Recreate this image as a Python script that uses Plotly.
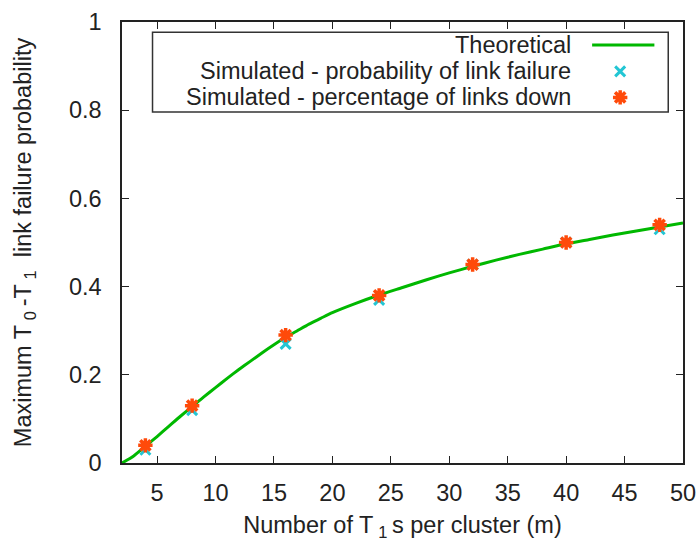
import plotly.graph_objects as go

# Theoretical curve (m, max link failure probability)
m_theory = [2, 3, 4, 5, 6, 7, 8, 9, 10, 11, 12, 13, 14, 15, 16, 17, 18, 19, 20,
            22, 24, 26, 28, 30, 32, 34, 36, 38, 40, 42, 44, 46, 48, 50]
p_theory = [0.000, 0.016, 0.038, 0.060, 0.083, 0.106, 0.128, 0.150, 0.171, 0.192,
            0.212, 0.231, 0.250, 0.268, 0.285, 0.300, 0.315, 0.328, 0.341,
            0.362, 0.381, 0.398, 0.415, 0.431, 0.446, 0.460, 0.473, 0.485,
            0.497, 0.507, 0.517, 0.526, 0.535, 0.544]

# Simulation results
m_sim = [4, 8, 16, 24, 32, 40, 48]
p_sim_prob = [0.030, 0.120, 0.270, 0.370, 0.450, 0.500, 0.530]
p_sim_down = [0.040, 0.130, 0.290, 0.380, 0.450, 0.500, 0.540]

legend_labels = ["Theoretical",
                 "Simulated - probability of link failure",
                 "Simulated - percentage of links down"]

GREEN = "#00b800"
CYAN = "#22c6d4"
ORANGE = "#ff4a0a"
TEXT = "#222222"
FONT = "Liberation Sans, Arial, sans-serif"
FS = 23.5
TS = "\u2009"  # thin space around subscripts

cyan_marker = dict(symbol="x-thin-open", size=10, color=CYAN,
                   line=dict(color=CYAN, width=3))
orange_marker = dict(symbol="asterisk-open", size=12, color=ORANGE,
                     line=dict(color=ORANGE, width=3.5))

fig = go.Figure()
fig.add_trace(go.Scatter(x=m_theory, y=p_theory, mode="lines",
                         line=dict(color=GREEN, width=3, shape="spline",
                                   smoothing=0.6),
                         showlegend=False))
fig.add_trace(go.Scatter(x=m_sim, y=p_sim_prob, mode="markers",
                         marker=cyan_marker, showlegend=False))
fig.add_trace(go.Scatter(x=m_sim, y=p_sim_down, mode="markers",
                         marker=orange_marker, showlegend=False))

# Key box, drawn in plot-area fractions on an overlay axis pair
key_right_text = 0.804
key_rows = [0.948, 0.888, 0.829]
key_mark_x = 0.888
fig.add_trace(go.Scatter(x=[key_mark_x], y=[key_rows[1]], xaxis="x2", yaxis="y2",
                         mode="markers", hoverinfo="skip", showlegend=False,
                         marker=cyan_marker))
fig.add_trace(go.Scatter(x=[key_mark_x], y=[key_rows[2]], xaxis="x2", yaxis="y2",
                         mode="markers", hoverinfo="skip", showlegend=False,
                         marker=orange_marker))

shapes = [
    dict(type="rect", xref="paper", yref="paper", x0=0.0544, x1=0.9737,
         y0=0.796, y1=0.977, line=dict(color="#333333", width=1.5),
         fillcolor="white", layer="below"),
    dict(type="line", xref="paper", yref="paper", x0=0.838, x1=0.949,
         y0=key_rows[0], y1=key_rows[0], line=dict(color=GREEN, width=3)),
]
annotations = [
    dict(text=t, xref="paper", yref="paper", x=key_right_text, y=yy,
         xanchor="right", yanchor="middle", showarrow=False,
         font=dict(family=FONT, size=FS, color=TEXT))
    for t, yy in zip(legend_labels, key_rows)
]

axis_common = dict(showline=True, linecolor=TEXT, linewidth=1.5,
                   mirror="ticks", ticks="inside", ticklen=7, tickwidth=1.2,
                   tickcolor=TEXT, showgrid=False, zeroline=False,
                   automargin=False,
                   tickfont=dict(family=FONT, size=FS, color=TEXT))

fig.update_layout(
    width=697, height=541,
    margin=dict(l=122, r=14, t=22, b=78),
    plot_bgcolor="white", paper_bgcolor="white",
    font=dict(family=FONT, size=FS, color=TEXT),
    xaxis=dict(range=[2, 50], tickvals=[5, 10, 15, 20, 25, 30, 35, 40, 45, 50],
               ticklabelstandoff=8,
               title=dict(text=f"Number of T{TS}<sub>1</sub>{TS}s per cluster (m)",
                          standoff=16,
                          font=dict(family=FONT, size=FS, color=TEXT)),
               **axis_common),
    yaxis=dict(range=[0, 1], tickvals=[0, 0.2, 0.4, 0.6, 0.8, 1],
               ticktext=["0", "0.2", "0.4", "0.6", "0.8", "1"],
               ticklabelstandoff=14,
               title=dict(text=f"Maximum T{TS}<sub>0</sub>{TS}-T{TS}<sub>1</sub>  link failure probability",
                          standoff=31,
                          font=dict(family=FONT, size=FS, color=TEXT)),
               **axis_common),
    xaxis2=dict(range=[0, 1], overlaying="x", visible=False, fixedrange=True),
    yaxis2=dict(range=[0, 1], overlaying="y", visible=False, fixedrange=True),
    shapes=shapes,
    annotations=annotations,
)

fig.write_html("out.html")
